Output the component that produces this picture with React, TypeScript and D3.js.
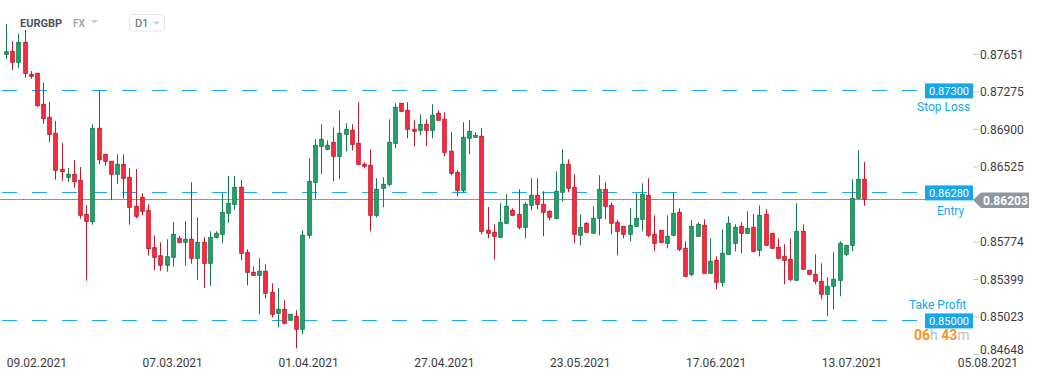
import React from "react";
import * as d3 from "d3";

const opens = [
  0.87651,0.87681,0.87571,0.87771,0.87451,0.87461,0.87151,0.87021,0.86861,0.86501,
  0.86421,0.86451,0.86391,0.86051,0.85977,0.86911,0.86651,0.86581,0.86451,0.86551,
  0.86421,0.86131,0.86221,0.86091,0.85717,0.85637,0.85541,0.85621,0.85811,0.85771,
  0.85801,0.85611,0.85771,0.85561,0.85821,0.85851,0.86061,0.86151,0.86321,0.85671,
  0.85471,0.85441,0.85481,0.85271,0.85061,0.85101,0.84991,0.85031,0.84901,0.85841,
  0.86371,0.86731,0.86701,0.86771,0.86631,0.86851,0.86891,0.86761,0.86551,0.86541,
  0.86041,0.86311,0.86351,0.86761,0.87161,0.87091,0.86901,0.86891,0.86951,0.86891,
  0.87061,0.87001,0.86681,0.86471,0.86291,0.86811,0.86821,0.86831,0.85891,0.85871,
  0.85821,0.85961,0.86091,0.86051,0.85921,0.86141,0.86241,0.86151,0.86081,0.86011,
  0.86271,0.86551,0.86321,0.85841,0.85961,0.85861,0.86011,0.86301,0.86141,0.85971,
  0.85931,0.85851,0.85931,0.86001,0.86241,0.85851,0.85891,0.85761,0.85841,0.86071,
  0.85711,0.85451,0.85831,0.85941,0.85461,0.85591,0.85371,0.85651,0.85761,0.85931,
  0.85861,0.85921,0.85691,0.86051,0.85861,0.85721,0.85631,0.85601,0.85391,0.85881,
  0.85491,0.85451,0.85381,0.85251,0.85331,0.85391,0.85651,0.85741,0.86211,0.86401,
];

const highs = [
  0.87954,0.87784,0.87854,0.87894,0.87484,0.87461,0.87367,0.87174,0.86984,0.86764,
  0.86514,0.86594,0.86524,0.86144,0.86951,0.87287,0.86651,0.86581,0.86651,0.86651,
  0.86511,0.86504,0.86261,0.86151,0.85841,0.85771,0.85801,0.85974,0.85834,0.85984,
  0.86371,0.86021,0.85821,0.85881,0.85881,0.86261,0.86434,0.86434,0.86394,0.85701,
  0.85531,0.85611,0.85551,0.85361,0.85311,0.85191,0.85051,0.85091,0.85891,0.86611,
  0.86801,0.86951,0.86791,0.86921,0.87091,0.86961,0.86951,0.87171,0.86571,0.86701,
  0.86411,0.86421,0.87001,0.87161,0.87161,0.87171,0.86991,0.87051,0.87001,0.87151,
  0.87091,0.87071,0.86871,0.86491,0.86971,0.86991,0.86871,0.86914,0.86124,0.85951,
  0.86161,0.86251,0.86111,0.86301,0.86171,0.86411,0.86411,0.86281,0.86091,0.86481,
  0.86701,0.86601,0.86451,0.86051,0.85971,0.86131,0.86441,0.86371,0.86171,0.85991,
  0.85931,0.86111,0.86261,0.86361,0.86411,0.86041,0.85891,0.86041,0.86271,0.86111,
  0.85781,0.85994,0.85971,0.86001,0.85811,0.85631,0.85901,0.86031,0.85951,0.85971,
  0.86081,0.86051,0.86141,0.86101,0.85861,0.85811,0.85751,0.85811,0.86161,0.85951,
  0.85491,0.85651,0.85561,0.85421,0.85671,0.85781,0.85741,0.86401,0.86691,0.86574,
];

const lows = [
  0.87604,0.87494,0.87511,0.87417,0.87407,0.87127,0.86957,0.86771,0.86397,0.86387,
  0.86377,0.86317,0.86007,0.85387,0.85947,0.86551,0.86537,0.86194,0.86357,0.86211,
  0.85947,0.86011,0.86041,0.85637,0.85491,0.85487,0.85477,0.85527,0.85761,0.85537,
  0.85557,0.85397,0.85317,0.85337,0.85811,0.85761,0.85964,0.86094,0.85591,0.85341,
  0.85441,0.85051,0.85211,0.85021,0.84921,0.84951,0.84991,0.84711,0.84851,0.85811,
  0.86201,0.86451,0.86691,0.86381,0.86401,0.86681,0.86691,0.86541,0.86511,0.85881,
  0.86021,0.86121,0.86331,0.86711,0.87081,0.86811,0.86731,0.86841,0.86731,0.86811,
  0.86991,0.86631,0.86441,0.86231,0.86271,0.86651,0.86821,0.85851,0.85811,0.85597,
  0.85821,0.85951,0.86041,0.85901,0.85811,0.86091,0.86101,0.85831,0.85991,0.86001,
  0.86181,0.86271,0.85761,0.85741,0.85871,0.85861,0.85841,0.86001,0.85851,0.85641,
  0.85811,0.85781,0.85931,0.85881,0.85821,0.85681,0.85761,0.85711,0.85831,0.85681,
  0.85421,0.85431,0.85831,0.85461,0.85461,0.85301,0.85327,0.85651,0.85681,0.85661,
  0.85861,0.85671,0.85631,0.85741,0.85711,0.85601,0.85351,0.85381,0.85391,0.85501,
  0.85441,0.85351,0.85201,0.85031,0.85101,0.85231,0.85631,0.85681,0.86211,0.86134,
];

const closes = [
  0.87677,0.87571,0.87771,0.87461,0.87431,0.87137,0.87007,0.86851,0.86491,0.86477,
  0.86451,0.86377,0.86041,0.85981,0.86911,0.86597,0.86581,0.86451,0.86551,0.86411,
  0.86121,0.86031,0.86081,0.85707,0.85621,0.85541,0.85627,0.85851,0.85771,0.85801,
  0.85611,0.85771,0.85561,0.85821,0.85861,0.86071,0.86161,0.86321,0.85661,0.85471,
  0.85441,0.85481,0.85261,0.85051,0.85101,0.84961,0.85051,0.84901,0.85841,0.86381,
  0.86741,0.86801,0.86741,0.86631,0.86861,0.86901,0.86751,0.86551,0.86531,0.86041,
  0.86301,0.86351,0.86771,0.87121,0.87081,0.86901,0.86881,0.86951,0.86891,0.87041,
  0.86991,0.86671,0.86461,0.86291,0.86821,0.86881,0.86841,0.85881,0.85861,0.85831,
  0.85971,0.86131,0.86041,0.85921,0.86151,0.86241,0.86151,0.86071,0.86021,0.86281,
  0.86551,0.86311,0.85851,0.85921,0.85871,0.86011,0.86301,0.86131,0.85961,0.85881,
  0.85851,0.85941,0.86011,0.86251,0.85841,0.85761,0.85771,0.85831,0.86061,0.85701,
  0.85431,0.85931,0.85951,0.85461,0.85581,0.85371,0.85661,0.85961,0.85921,0.85861,
  0.85911,0.85681,0.86041,0.85741,0.85711,0.85611,0.85591,0.85401,0.85881,0.85501,
  0.85451,0.85381,0.85251,0.85331,0.85401,0.85761,0.85741,0.86211,0.86401,0.86203,
];

const dateLabels = ["09.02.2021", "07.03.2021", "01.04.2021", "27.04.2021", "23.05.2021", "17.06.2021", "13.07.2021", "05.08.2021"];
const dateIndices = [5, 27, 49, 71, 93, 115, 137, 159];

const priceTicks = [0.87651, 0.87275, 0.869, 0.86525, 0.85774, 0.85399, 0.85023, 0.84648];

const levelNames = ["Stop Loss", "Entry", "Take Profit"];
const levelValues = [0.873, 0.8628, 0.85];
const levelTextX = [917, 937, 909];
const levelTextDy = [21.5, 23.5, -10.5];

const lastPrice = 0.86203;
const symbol = "EURGBP";
const market = "FX";
const interval = "D1";

const W = 1041;
const H = 380;
const FONT = "Roboto, 'Noto Sans', Arial, sans-serif";

const GREEN_FILL = "#23a66c";
const GREEN_LINE = "#127a4b";
const RED_FILL = "#fd2c40";
const RED_LINE = "#bf1a2d";
const BLUE = "#14a7ee";
const BLUE_LINE = "#1aabf2";

export default function App() {
  const x = d3.scaleLinear().domain([0, opens.length - 1]).range([6, 864.3]);
  const y = d3.scaleLinear().domain([0.84648, 0.87651]).range([354.6, 54.3]);
  const bodyW = 3.6;
  const snap = (v: number) => Math.floor(v) + 1.5;
  const lastY = Math.round(y(lastPrice)) + 0.5;

  return (
    <svg
      width={W}
      height={H}
      viewBox={`0 0 ${W} ${H}`}
      style={{ position: "absolute", left: 0, top: 0, background: "#fff", fontFamily: FONT }}
    >
      <rect x={0} y={0} width={W} height={H} fill="#fff" />

      {/* level lines */}
      {levelValues.map((v, i) => (
        <line
          key={"lv" + i}
          x1={2}
          x2={918}
          y1={snap(y(v))}
          y2={snap(y(v))}
          stroke={BLUE_LINE}
          strokeWidth={1.2}
          strokeDasharray="15 15"
        />
      ))}

      {/* last price line */}
      <line x1={0} x2={974} y1={lastY} y2={lastY} stroke="#8b959b" strokeWidth={1} />

      {/* candles */}
      {opens.map((o, i) => {
        const c = closes[i];
        const up = c >= o;
        const cx = Math.round(x(i)) + 0.5;
        const top = y(Math.max(o, c));
        const bot = y(Math.min(o, c));
        const h = Math.max(1.5, bot - top);
        return (
          <g key={"c" + i}>
            <line
              x1={cx}
              x2={cx}
              y1={y(highs[i])}
              y2={y(lows[i])}
              stroke={up ? GREEN_LINE : RED_LINE}
              strokeWidth={1}
            />
            <rect
              x={cx - bodyW / 2}
              y={top}
              width={bodyW}
              height={h}
              fill={up ? GREEN_FILL : RED_FILL}
              stroke={up ? GREEN_LINE : RED_LINE}
              strokeWidth={0.9}
            />
          </g>
        );
      })}

      {/* header */}
      <text x={20} y={26.7} fontSize={11} fontWeight={700} fill="#4b5157">{symbol}</text>
      <text x={73} y={26.7} fontSize={10} fontWeight={700} fill="#a3acb5">{market}</text>
      <path d="M91,20 L98,20 L94.5,23.5 Z" fill="#c9ced3" />
      <rect x={129.5} y={14.5} width={35} height={16.5} rx={3} fill="#fff" stroke="#e2e5e8" />
      <text x={135} y={26.5} fontSize={11} fill="#5a6068">{interval}</text>
      <path d="M153,21.5 L160,21.5 L156.5,25 Z" fill="#c9ced3" />

      {/* price axis */}
      {priceTicks.map((v, i) => {
        const ty = y(v);
        const ly = Math.min(ty, 350);
        return (
          <g key={"pt" + i}>
            <line x1={973} x2={979} y1={ty} y2={ty} stroke="#c8c8c8" strokeWidth={1} />
            <text x={980} y={ly} dy="0.36em" fontSize={12} fill="#3c3c3c">
              {v.toFixed(5)}
            </text>
          </g>
        );
      })}

      {/* level tags */}
      {levelValues.map((v, i) => (
        <g key={"lt" + i}>
          <rect x={925} y={y(v) - 6} width={48} height={15} fill={BLUE} />
          <text x={949} y={y(v) + 1.5} dy="0.35em" fontSize={11} fill="#fff" textAnchor="middle">
            {v.toFixed(5)}
          </text>
          <text x={levelTextX[i]} y={y(v) + levelTextDy[i]} fontSize={12} fill={BLUE}>
            {levelNames[i]}
          </text>
        </g>
      ))}

      {/* last price tag */}
      <path
        d={`M973,${lastY + 0.5} L981,${lastY - 7} L1029,${lastY - 7} L1029,${lastY + 8.5} L981,${lastY + 8.5} Z`}
        fill="#8e979d"
      />
      <text x={983} y={lastY + 1} dy="0.36em" fontSize={12} fontWeight={700} fill="#fff">
        {lastPrice.toFixed(5)}
      </text>

      {/* countdown */}
      <text x={914} y={340} fontSize={14} fontWeight={700}>
        <tspan fill="#f5961f">06</tspan>
        <tspan fill="#b9bec3" fontWeight={400}>h </tspan>
        <tspan fill="#f5961f">43</tspan>
        <tspan fill="#b9bec3" fontWeight={400}>m</tspan>
      </text>

      {/* time axis */}
      {dateLabels.map((d, i) => (
        <text key={"dl" + i} x={x(dateIndices[i])} y={367} fontSize={12} fill="#3c3c3c" textAnchor="middle">
          {d}
        </text>
      ))}
    </svg>
  );
}
